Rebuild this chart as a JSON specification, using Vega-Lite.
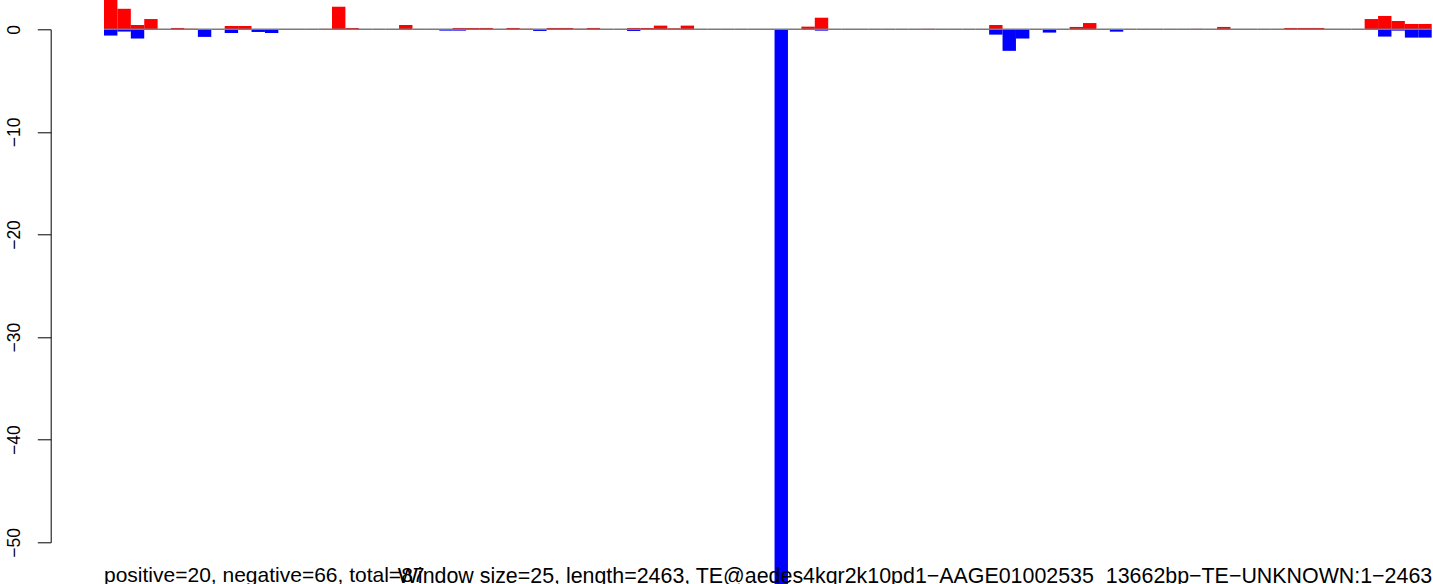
{
  "$schema": "https://vega.github.io/schema/vega-lite/v6.json",
  "autosize": {"type": "none"},
  "width": 1327.7,
  "height": 513,
  "padding": {"left": 104, "top": 29.3, "right": 1.3, "bottom": 41.7},
  "background": "white",
  "config": {"view": {"stroke": null}},
  "title": {
    "text": "positive=20, negative=66, total=87",
    "orient": "bottom",
    "anchor": "start",
    "frame": "group",
    "offset": -42,
    "baseline": "alphabetic",
    "font": "Liberation Sans",
    "fontSize": 21,
    "fontWeight": "normal",
    "color": "black"
  },
  "data": {
    "values": [
      {"w": 0, "pos": 3.2, "neg": -0.61},
      {"w": 1, "pos": 2.0, "neg": -0.22},
      {"w": 2, "pos": 0.42, "neg": -0.9},
      {"w": 3, "pos": 1.0, "neg": -0.05},
      {"w": 4, "pos": 0, "neg": 0},
      {"w": 5, "pos": 0.13, "neg": 0},
      {"w": 6, "pos": 0.05, "neg": 0},
      {"w": 7, "pos": 0, "neg": -0.74},
      {"w": 8, "pos": 0, "neg": 0},
      {"w": 9, "pos": 0.32, "neg": -0.35},
      {"w": 10, "pos": 0.32, "neg": 0},
      {"w": 11, "pos": 0, "neg": -0.26},
      {"w": 12, "pos": 0, "neg": -0.36},
      {"w": 13, "pos": 0, "neg": -0.06},
      {"w": 14, "pos": 0, "neg": -0.06},
      {"w": 15, "pos": 0, "neg": 0},
      {"w": 16, "pos": 0.04, "neg": 0},
      {"w": 17, "pos": 2.2, "neg": 0},
      {"w": 18, "pos": 0.13, "neg": -0.06},
      {"w": 19, "pos": 0, "neg": 0},
      {"w": 20, "pos": 0, "neg": 0},
      {"w": 21, "pos": 0, "neg": 0},
      {"w": 22, "pos": 0.42, "neg": 0},
      {"w": 23, "pos": 0, "neg": 0},
      {"w": 24, "pos": 0, "neg": 0},
      {"w": 25, "pos": 0, "neg": -0.13},
      {"w": 26, "pos": 0.13, "neg": -0.13},
      {"w": 27, "pos": 0.13, "neg": -0.05},
      {"w": 28, "pos": 0.13, "neg": 0},
      {"w": 29, "pos": 0, "neg": 0},
      {"w": 30, "pos": 0.13, "neg": 0},
      {"w": 31, "pos": 0.05, "neg": 0},
      {"w": 32, "pos": 0, "neg": -0.16},
      {"w": 33, "pos": 0.13, "neg": 0},
      {"w": 34, "pos": 0.13, "neg": 0},
      {"w": 35, "pos": 0.05, "neg": 0},
      {"w": 36, "pos": 0.13, "neg": -0.05},
      {"w": 37, "pos": 0, "neg": 0},
      {"w": 38, "pos": 0, "neg": 0},
      {"w": 39, "pos": 0.13, "neg": -0.16},
      {"w": 40, "pos": 0.13, "neg": 0},
      {"w": 41, "pos": 0.36, "neg": 0},
      {"w": 42, "pos": 0.1, "neg": 0},
      {"w": 43, "pos": 0.36, "neg": 0},
      {"w": 44, "pos": 0, "neg": 0},
      {"w": 45, "pos": 0, "neg": 0},
      {"w": 46, "pos": 0, "neg": 0},
      {"w": 47, "pos": 0, "neg": 0},
      {"w": 48, "pos": 0, "neg": 0},
      {"w": 49, "pos": 0, "neg": -0.05},
      {"w": 50, "pos": 0, "neg": -58},
      {"w": 51, "pos": 0, "neg": 0},
      {"w": 52, "pos": 0.26, "neg": 0},
      {"w": 53, "pos": 1.13, "neg": -0.13},
      {"w": 54, "pos": 0, "neg": 0},
      {"w": 55, "pos": 0, "neg": 0},
      {"w": 56, "pos": 0, "neg": 0},
      {"w": 57, "pos": 0, "neg": 0},
      {"w": 58, "pos": 0, "neg": 0},
      {"w": 59, "pos": 0, "neg": 0},
      {"w": 60, "pos": 0, "neg": 0},
      {"w": 61, "pos": 0.04, "neg": 0},
      {"w": 62, "pos": 0, "neg": 0},
      {"w": 63, "pos": 0, "neg": 0},
      {"w": 64, "pos": 0, "neg": 0},
      {"w": 65, "pos": 0, "neg": 0},
      {"w": 66, "pos": 0.42, "neg": -0.52},
      {"w": 67, "pos": 0, "neg": -2.1},
      {"w": 68, "pos": 0, "neg": -0.9},
      {"w": 69, "pos": 0, "neg": 0},
      {"w": 70, "pos": 0, "neg": -0.32},
      {"w": 71, "pos": 0, "neg": 0},
      {"w": 72, "pos": 0.23, "neg": 0},
      {"w": 73, "pos": 0.61, "neg": 0},
      {"w": 74, "pos": 0, "neg": 0},
      {"w": 75, "pos": 0, "neg": -0.23},
      {"w": 76, "pos": 0, "neg": 0},
      {"w": 77, "pos": 0, "neg": 0},
      {"w": 78, "pos": 0, "neg": 0},
      {"w": 79, "pos": 0, "neg": 0},
      {"w": 80, "pos": 0, "neg": 0},
      {"w": 81, "pos": 0.04, "neg": 0},
      {"w": 82, "pos": 0, "neg": -0.05},
      {"w": 83, "pos": 0.23, "neg": -0.05},
      {"w": 84, "pos": 0, "neg": 0},
      {"w": 85, "pos": 0, "neg": 0},
      {"w": 86, "pos": 0, "neg": 0},
      {"w": 87, "pos": 0, "neg": -0.04},
      {"w": 88, "pos": 0.13, "neg": 0},
      {"w": 89, "pos": 0.13, "neg": 0},
      {"w": 90, "pos": 0.13, "neg": 0},
      {"w": 91, "pos": 0, "neg": -0.05},
      {"w": 92, "pos": 0, "neg": 0},
      {"w": 93, "pos": 0, "neg": 0},
      {"w": 94, "pos": 1.0, "neg": 0},
      {"w": 95, "pos": 1.3, "neg": -0.71},
      {"w": 96, "pos": 0.81, "neg": -0.13},
      {"w": 97, "pos": 0.52, "neg": -0.81},
      {"w": 98, "pos": 0.52, "neg": -0.81}
    ]
  },
  "encoding": {
    "x": {
      "field": "w",
      "type": "ordinal",
      "scale": {"type": "band", "paddingInner": 0, "paddingOuter": 0},
      "axis": {
        "domain": false,
        "ticks": false,
        "labels": false,
        "grid": false,
        "title": "Window size=25, length=2463, TE@aedes4kqr2k10pd1−AAGE01002535_13662bp−TE−UNKNOWN:1−2463",
        "titleAnchor": "end",
        "titleAlign": "right",
        "titleBaseline": "alphabetic",
        "titlePadding": 39.7,
        "titleFont": "Liberation Sans",
        "titleFontSize": 21.4,
        "titleFontWeight": "normal",
        "titleColor": "black",
        "zindex": 1
      }
    }
  },
  "layer": [
    {
      "mark": {"type": "bar", "color": "#ff0000"},
      "encoding": {
        "y": {
          "field": "pos",
          "type": "quantitative",
          "scale": {"domain": [-50, 0], "nice": false, "zero": false},
          "axis": {
            "orient": "left",
            "offset": 53.3,
            "values": [-50, -40, -30, -20, -10, 0],
            "title": null,
            "grid": false,
            "domain": true,
            "domainColor": "black",
            "domainWidth": 1,
            "ticks": true,
            "tickSize": 13.4,
            "tickColor": "black",
            "tickWidth": 1,
            "labelAngle": 270,
            "labelAlign": "center",
            "labelBaseline": "alphabetic",
            "labelPadding": 18,
            "labelFont": "Liberation Sans",
            "labelFontSize": 17.5,
            "labelColor": "black",
            "labelFlush": false,
            "labelOverlap": false,
            "labelBound": false
          }
        },
        "y2": {"datum": 0}
      }
    },
    {
      "mark": {"type": "bar", "color": "#0000ff"},
      "encoding": {
        "y": {"field": "neg", "type": "quantitative"},
        "y2": {"datum": 0}
      }
    },
    {
      "mark": {"type": "bar", "fillOpacity": 0, "stroke": "#7a7a7a", "strokeWidth": 1.5},
      "encoding": {
        "y": {"datum": 0},
        "y2": {"datum": 0}
      }
    }
  ]
}
